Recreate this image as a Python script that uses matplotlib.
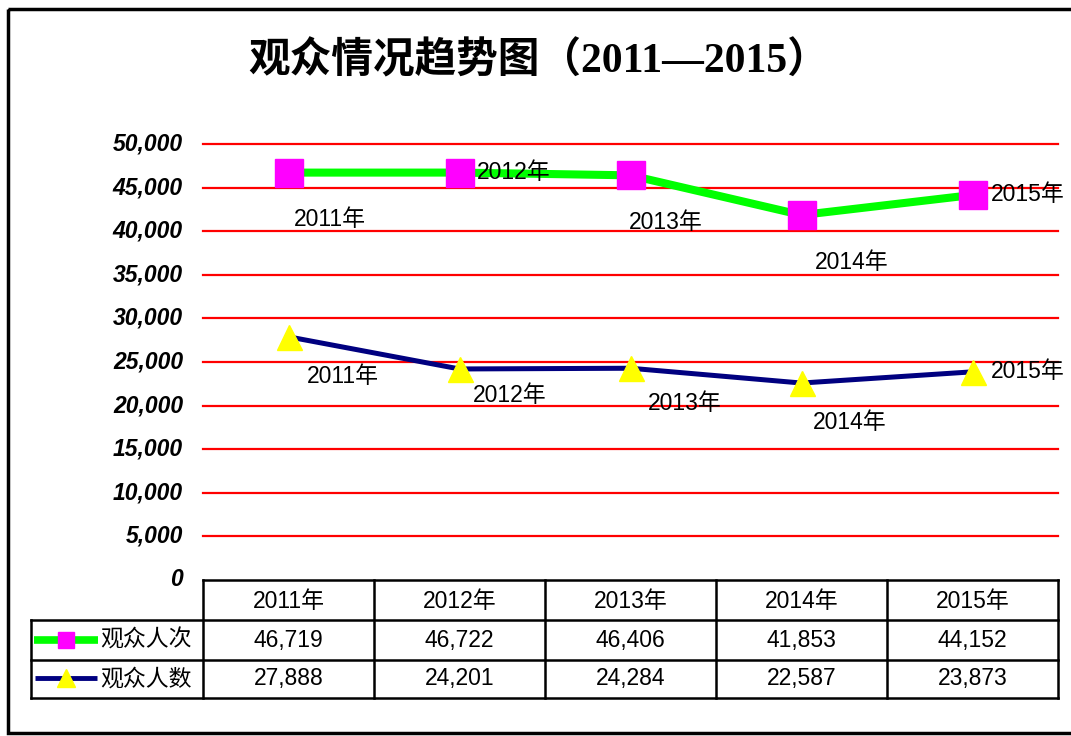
import matplotlib
matplotlib.use("Agg")
import matplotlib.pyplot as plt
from matplotlib.patches import Rectangle

# ---------------- data ----------------
categories = ["2011年", "2012年", "2013年", "2014年", "2015年"]
series_names = ["观众人次", "观众人数"]
visits = [46719, 46722, 46406, 41853, 44152]
people = [27888, 24201, 24284, 22587, 23873]
yticks = [0, 5000, 10000, 15000, 20000, 25000, 30000, 35000, 40000, 45000, 50000]
title = "观众情况趋势图（2011—2015）"

# label offsets (pixels, x right / y down) - style only
visits_off = [(41, 47), (53, 0), (35, 47), (50, 47), (54, 0)]
people_off = [(54, 40), (50, 27), (54, 35), (48, 39), (54, 0)]

W, H = 1071, 736
fig = plt.figure(figsize=(W / 100, H / 100), dpi=100)
fig.patch.set_facecolor("white")

FONT = ["Liberation Sans", "Noto Sans CJK SC"]
TFONT = ["Liberation Serif", "Noto Sans CJK SC"]
FS = 16.5

# overlay axes in pixel coords
ov = fig.add_axes([0, 0, 1, 1], zorder=0)
ov.set_xlim(0, W)
ov.set_ylim(H, 0)
ov.axis("off")

# plot area
L, R, T, B = 203, 1058, 144, 580
ax = fig.add_axes([L / W, (H - B) / H, (R - L) / W, (B - T) / H], zorder=1)
ax.patch.set_alpha(0)
ax.set_xlim(-0.5, len(categories) - 0.5)
ax.set_ylim(0, 50000)
for s in ax.spines.values():
    s.set_visible(False)
ax.set_xticks([])
ax.set_yticks([])
for v in yticks[1:]:
    ax.axhline(v, color="#FF0000", lw=1.6, zorder=1, clip_on=False)

x = list(range(len(categories)))
ax.plot(x, visits, color="#00FF00", lw=5.8, marker="s", markersize=20,
        markerfacecolor="#FF00FF", markeredgecolor="#FF00FF", zorder=3, clip_on=False)
ax.plot(x, people, color="#000080", lw=3.6, marker="^", markersize=18,
        markerfacecolor="#FFFF00", markeredgecolor="#FFFF00", zorder=3, clip_on=False)

for vals, offs in ((visits, visits_off), (people, people_off)):
    for i, (v, (dx, dy)) in enumerate(zip(vals, offs)):
        ha = "left" if dy == 0 else "center"
        ax.annotate(categories[i], (i, v), xytext=(dx if dy else dx - 36, -dy),
                    textcoords="offset pixels", ha=ha, va="center",
                    fontsize=FS, family=FONT, color="black", zorder=4)

# y tick labels
for v in yticks:
    ypix = B - v / 50000 * (B - T)
    ov.text(183, ypix, f"{v:,}", ha="right", va="center", fontsize=FS,
            fontweight="bold", fontstyle="italic", family=FONT)

# title
ov.text(539, 61, title, ha="center", va="center", fontsize=30,
        family=TFONT, fontweight="bold")

# outer border
ov.add_patch(Rectangle((8, 9), 1100, 724, fill=False, lw=2.5, ec="black", zorder=0))

# table
cols = [203, 374, 545, 716, 887, 1058]
lw = 1.8
ov.plot([203, 1058], [580, 580], color="black", lw=lw)
for y in (620, 660, 698):
    ov.plot([31, 1058], [y, y], color="black", lw=lw)
ov.plot([31, 31], [620, 698], color="black", lw=lw)
for c in cols:
    ov.plot([c, c], [580, 698], color="black", lw=lw)

centers = [(cols[i] + cols[i + 1]) / 2 for i in range(5)]
for i, c in enumerate(centers):
    ov.text(c, 601, categories[i], ha="center", va="center", fontsize=FS, family=FONT)
    ov.text(c, 640, f"{visits[i]:,}", ha="center", va="center", fontsize=FS, family=FONT)
    ov.text(c, 679, f"{people[i]:,}", ha="center", va="center", fontsize=FS, family=FONT)

# legend keys
ov.plot([34, 98], [640, 640], color="#00FF00", lw=5.5, solid_capstyle="butt")
ov.plot([66], [640], marker="s", markersize=11.5, color="#FF00FF")
ov.plot([35, 97], [678, 678], color="#000080", lw=3.5, solid_capstyle="butt")
ov.plot([66], [678], marker="^", markersize=13, color="#FFFF00")
ov.text(100, 640, series_names[0], ha="left", va="center", fontsize=FS, family=FONT)
ov.text(100, 679, series_names[1], ha="left", va="center", fontsize=FS, family=FONT)

fig.savefig("out.png", dpi=100)
